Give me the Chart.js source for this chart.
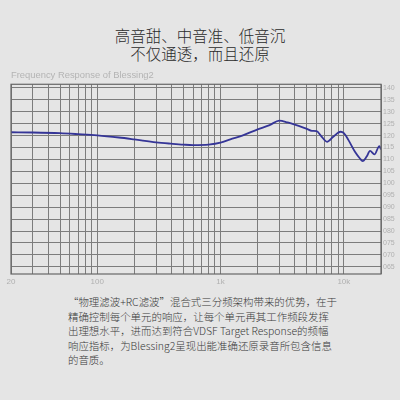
<!DOCTYPE html>
<html>
<head>
<meta charset="utf-8">
<script src="https://cdn.jsdelivr.net/npm/chart.js@4/dist/chart.umd.min.js"></script>
<style>
  html, body { margin: 0; padding: 0; }
  body { width: 400px; height: 400px; background: #e5e5e5; position: relative; overflow: hidden;
         font-family: "Noto Sans CJK SC", "Noto Sans", sans-serif; }
  #head { position: absolute; top: 26px; left: 0; width: 400px; text-align: center;
          font-size: 15.5px; line-height: 18px; color: #2a2a2a; font-weight: 300; }
  #wrap { position: absolute; left: 0; top: 70px; width: 400px; height: 220px; }
  #note { position: absolute; left: 68px; top: 295px; font-size: 10.45px; line-height: 14.5px;
          color: #3a3a3a; white-space: nowrap; font-weight: 300; }
</style>
</head>
<body>
<div id="head">高音甜、中音准、低音沉<br>不仅通透，而且还原</div>
<div id="wrap"><canvas id="frChart"></canvas></div>
<div id="note">“物理滤波+RC滤波”混合式三分频架构带来的优势，在于<br>精确控制每个单元的响应，让每个单元再其工作频段发挥<br>出理想水平，进而达到符合VDSF Target Response的频幅<br>响应指标，为Blessing2呈现出能准确还原录音所包含信息<br>的音质。</div>
<script>
// frequency response (Hz / dB)
const freqs = [20, 30, 50, 70, 100, 150, 200, 300, 400, 500, 600, 800,
    1000, 1200, 1500, 2000, 2500, 3000, 3500, 4000, 5000, 5500, 6000, 6500,
    7300, 8200, 9400, 10000, 10900, 12300, 13500, 14200, 15300, 16300, 17700, 19400, 20000];
const levels = [121.4, 121.3, 121.0, 120.6, 120.1, 119.2, 118.4, 117.2, 116.6, 116.2, 116.0, 116.2,
    117.0, 118.4, 120.0, 122.6, 124.4, 126.3, 125.5, 124.6, 122.8, 122.0, 121.9, 120.0,
    117.4, 119.5, 121.6, 121.0, 118.1, 113.2, 110.4, 109.3, 111.2, 113.6, 112.1, 115.6, 114.2];

// axis ticks
const xGrid = [20, 30, 40, 50, 60, 70, 80, 90, 100, 200, 300, 400, 500, 600, 700, 800, 900,
    1000, 2000, 3000, 4000, 5000, 6000, 7000, 8000, 9000, 10000, 20000];
const xLabelTicks = [20, 100, 1000, 10000];
const xLabelText = ['20', '100', '1k', '10k'];
const yTicks = [65, 70, 75, 80, 85, 90, 95, 100, 105, 110, 115, 120, 125, 130, 135, 140];

// plot frame around the chart area
const framePlugin = {
    id: 'frame',
    afterDatasetsDraw(chart) {
        const a = chart.chartArea;
        const c = chart.ctx;
        c.save();
        c.strokeStyle = '#666';
        c.lineWidth = 1.2;
        c.strokeRect(a.left, a.top, a.right - a.left, a.bottom - a.top);
        c.restore();
    }
};

const ctx = document.getElementById('frChart').getContext('2d');
new Chart(ctx, {
    type: 'line',
    data: {
        datasets: [{
            label: 'Blessing2',
            data: freqs.map((f, i) => ({ x: f, y: levels[i] })),
            borderColor: '#353597',
            borderWidth: 1.8,
            pointRadius: 0,
            cubicInterpolationMode: 'monotone',
            fill: false
        }]
    },
    options: {
        responsive: true,
        maintainAspectRatio: false,
        animation: false,
        layout: { padding: { left: 11, right: 0, top: 0, bottom: 0 } },
        plugins: {
            legend: { display: false },
            tooltip: { enabled: false },
            title: {
                display: true,
                text: 'Frequency Response of Blessing2',
                align: 'start',
                color: '#b4b4b4',
                font: { family: 'Liberation Sans', size: 9.4, weight: 'normal' },
                padding: { top: 0, bottom: 3 }
            }
        },
        scales: {
            x: {
                type: 'logarithmic',
                min: 20,
                max: 20000,
                afterBuildTicks: scale => { scale.ticks = xGrid.map(v => ({ value: v })); },
                afterFit: scale => { scale.height = 16; },
                grid: { color: '#7c7c7c', lineWidth: 1, drawTicks: false },
                border: { display: false },
                ticks: {
                    autoSkip: false,
                    maxRotation: 0,
                    padding: 3,
                    color: '#b0b0b0',
                    font: { family: 'Liberation Sans', size: 8 },
                    callback: v => {
                        const k = xLabelTicks.indexOf(v);
                        return k >= 0 ? xLabelText[k] : '';
                    }
                }
            },
            y: {
                position: 'right',
                min: 62,
                max: 141.5,
                afterBuildTicks: scale => { scale.ticks = yTicks.map(v => ({ value: v })); },
                afterFit: scale => { scale.width = 19; },
                grid: { color: '#7c7c7c', lineWidth: 1, drawTicks: false },
                border: { display: false },
                ticks: {
                    padding: 2,
                    color: '#b0b0b0',
                    font: { family: 'Liberation Sans', size: 7 },
                    callback: v => String(v).padStart(3, '0')
                }
            }
        }
    },
    plugins: [framePlugin]
});
</script>
</body>
</html>
